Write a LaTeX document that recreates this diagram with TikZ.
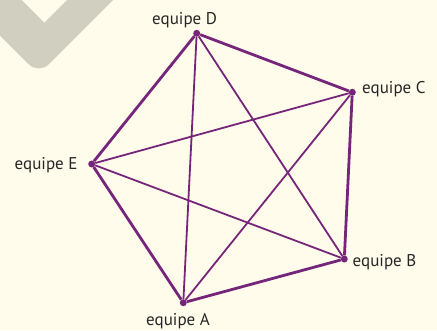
\documentclass[tikz,border=0pt]{standalone}
\usepackage{fontspec}
\setmainfont{PT Sans}
\usepackage{tikz}
\definecolor{teampurple}{RGB}{118,38,122}
\definecolor{papercream}{RGB}{255,252,235}
\definecolor{markgrey}{RGB}{208,207,192}
\usetikzlibrary{positioning}

\begin{document}
\begin{tikzpicture}[x=1pt, y=-1pt,
    team/.style={circle, fill=teampurple, inner sep=0pt, minimum size=7pt},
    teamname/.style={anchor=base west, inner sep=0pt, text=black!85, font=\fontsize{17}{19}\selectfont},
    side/.style={draw=teampurple, line width=2.8pt},
    diag/.style={draw=teampurple, line width=1.8pt}
]

\fill[papercream] (0,0) rectangle (437,330);
\useasboundingbox (0,0) rectangle (437,330);
\clip (0,0) rectangle (437,330);

% grey tick in the corner
\fill[markgrey] (21.7,0) -- (44.3,22.7) -- (67,0) -- (113,0)
    [rounded corners=14pt] -- (38.75,74.25) [sharp corners] -- (-10,25.5) -- (-10,0) -- cycle;

% teams
\node[team] (D) at (196.7,33.3) {};
\node[team] (C) at (352.3,92.3) {};
\node[team] (B) at (344.3,259) {};
\node[team] (A) at (183.3,302.7) {};
\node[team] (E) at (91.7,164) {};

\node[teamname] (labD) at (152,24) {equipe D};
\node[teamname] (labC) at (362,93) {equipe C};
\node[teamname] (labB) at (352.5,266.7) {equipe B};
\node[teamname] (labA) at (146,325) {equipe A};
\node[teamname] (labE) at (14.5,169) {equipe E};

% matches
\draw[side] (A) -- (B);
\draw[side] (B) -- (C);
\draw[side] (C) -- (D);
\draw[side] (D) -- (E);
\draw[side] (E) -- (A);

\draw[diag] (A) -- (C);
\draw[diag] (A) -- (D);
\draw[diag] (B) -- (D);
\draw[diag] (B) -- (E);
\draw[diag] (C) -- (E);

\end{tikzpicture}
\end{document}
